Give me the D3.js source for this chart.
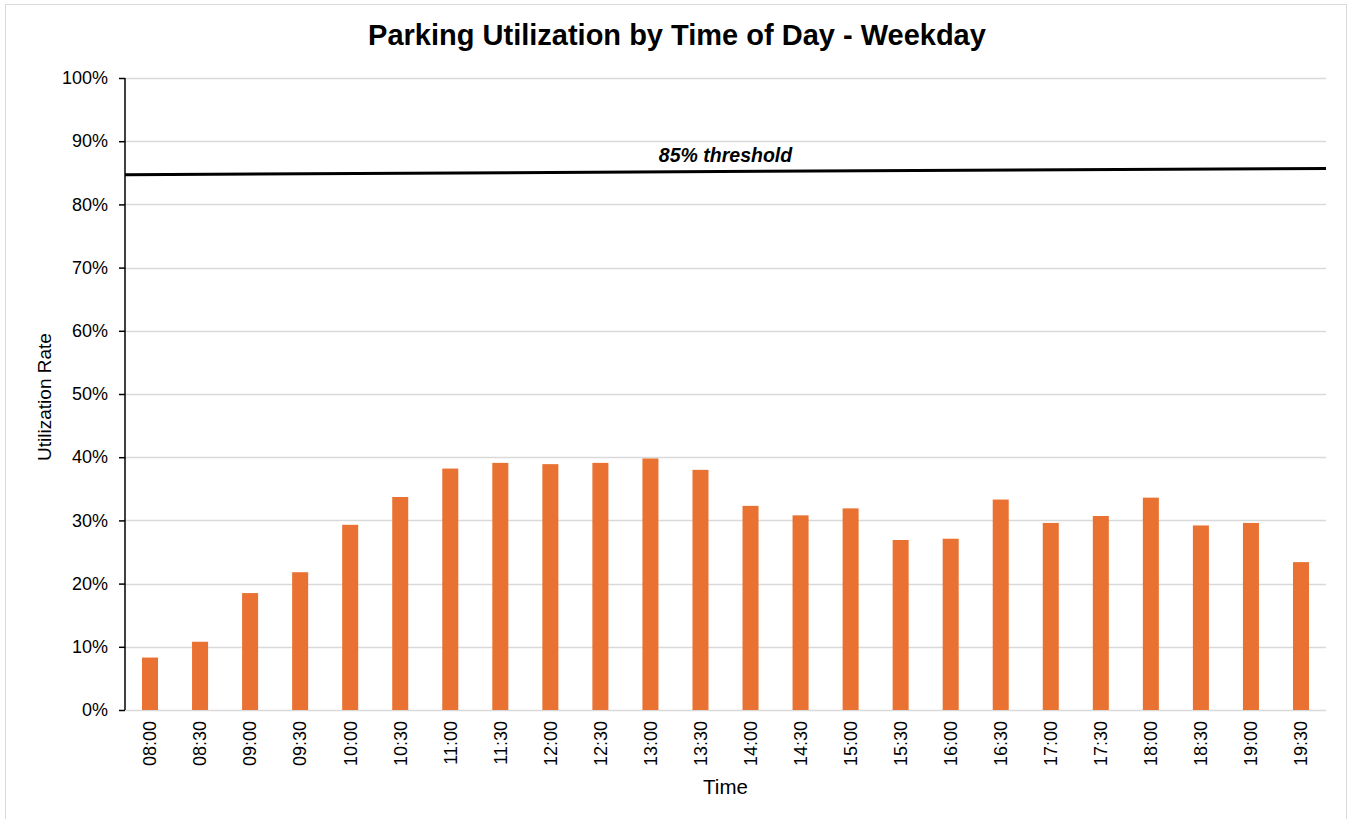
<!DOCTYPE html>
<html>
<head>
<meta charset="utf-8">
<script src="https://cdn.jsdelivr.net/npm/d3@7"></script>
<style>
  body { margin: 0; background: #fff; }
  text { font-family: "Liberation Sans", Arial, sans-serif; }
</style>
</head>
<body>
<svg id="chart" width="1350" height="819"></svg>
<script>
var times = ["08:00", "08:30", "09:00", "09:30", "10:00", "10:30", "11:00", "11:30",
             "12:00", "12:30", "13:00", "13:30", "14:00", "14:30", "15:00", "15:30",
             "16:00", "16:30", "17:00", "17:30", "18:00", "18:30", "19:00", "19:30"];
var utilization = [8.3, 10.8, 18.5, 21.8, 29.3, 33.7, 38.2, 39.1,
                   38.9, 39.1, 39.8, 38.0, 32.3, 30.8, 31.9, 26.9,
                   27.1, 33.3, 29.6, 30.7, 33.6, 29.2, 29.6, 23.4];
var yTicks = [0, 10, 20, 30, 40, 50, 60, 70, 80, 90, 100];
// threshold line as drawn: start and end value
var threshold = [84.7, 85.7];
var thresholdLabel = "85% threshold";

var margin = {top: 78, right: 24, bottom: 109, left: 125},
    width = 1350 - margin.left - margin.right,
    height = 819 - margin.top - margin.bottom;

var svg = d3.select("#chart");

// outer chart border
svg.append("rect")
    .attr("x", 5.5)
    .attr("y", 4.5)
    .attr("width", 1341)
    .attr("height", 830)
    .attr("fill", "#fff")
    .attr("stroke", "#d9d9d9")
    .attr("stroke-width", 1);

var g = svg.append("g")
    .attr("transform", "translate(" + margin.left + "," + margin.top + ")");

var x = d3.scaleBand()
    .domain(times)
    .range([0, width])
    .paddingInner(0.68)
    .paddingOuter(0.34);

var y = d3.scaleLinear()
    .domain([0, 100])
    .range([height, 0]);

// gridlines
g.selectAll(".grid")
    .data(yTicks)
    .enter()
    .append("line")
    .attr("class", "grid")
    .attr("x1", 0)
    .attr("x2", width)
    .attr("y1", function(d){ return Math.round(y(d)) + 0.5; })
    .attr("y2", function(d){ return Math.round(y(d)) + 0.5; })
    .attr("stroke", "#d9d9d9")
    .attr("stroke-width", 1.3);

// bars
g.selectAll(".bar")
    .data(utilization)
    .enter()
    .append("rect")
    .attr("class", "bar")
    .attr("x", function(d, i){ return x(times[i]); })
    .attr("y", function(d){ return y(d); })
    .attr("width", x.bandwidth())
    .attr("height", function(d){ return height - y(d); })
    .attr("fill", "#E97132");

// y axis
var yAxis = d3.axisLeft(y)
    .tickValues(yTicks)
    .tickSize(6)
    .tickPadding(11)
    .tickFormat(function(d){ return d + "%"; });

var ya = g.append("g")
    .attr("class", "yaxis")
    .call(yAxis);
ya.select(".domain").attr("stroke", "#000").attr("stroke-width", 1.5).attr("d", "M0,0V" + height);
ya.selectAll(".tick line").attr("stroke", "#000").attr("stroke-width", 1.5);
ya.selectAll("text")
    .style("font-size", "18px")
    .attr("fill", "#000");

// x axis
var xAxis = d3.axisBottom(x).tickSize(0).tickPadding(0);
var xa = g.append("g")
    .attr("class", "xaxis")
    .attr("transform", "translate(0," + height + ")")
    .call(xAxis);
xa.select(".domain").remove();
xa.selectAll("text")
    .attr("transform", "rotate(-90)")
    .attr("x", -11)
    .attr("y", 0)
    .attr("dy", "0.35em")
    .style("text-anchor", "end")
    .style("font-size", "18px")
    .attr("fill", "#000");

// threshold line
g.append("line")
    .attr("x1", 0)
    .attr("x2", width)
    .attr("y1", y(threshold[0]))
    .attr("y2", y(threshold[1]))
    .attr("stroke", "#000")
    .attr("stroke-width", 3);

g.append("text")
    .attr("x", width / 2)
    .attr("y", y(85) - 11)
    .style("text-anchor", "middle")
    .style("font-size", "19.5px")
    .style("font-weight", "bold")
    .style("font-style", "italic")
    .text(thresholdLabel);

// title
svg.append("text")
    .attr("x", 677)
    .attr("y", 45)
    .style("text-anchor", "middle")
    .style("font-size", "29px")
    .style("font-weight", "bold")
    .text("Parking Utilization by Time of Day - Weekday");

// axis titles
svg.append("text")
    .attr("transform", "translate(" + 51 + "," + (margin.top + height / 2 + 3) + ") rotate(-90)")
    .style("text-anchor", "middle")
    .style("font-size", "19px")
    .text("Utilization Rate");

svg.append("text")
    .attr("x", margin.left + width / 2)
    .attr("y", 794)
    .style("text-anchor", "middle")
    .style("font-size", "20.5px")
    .text("Time");
</script>
</body>
</html>
